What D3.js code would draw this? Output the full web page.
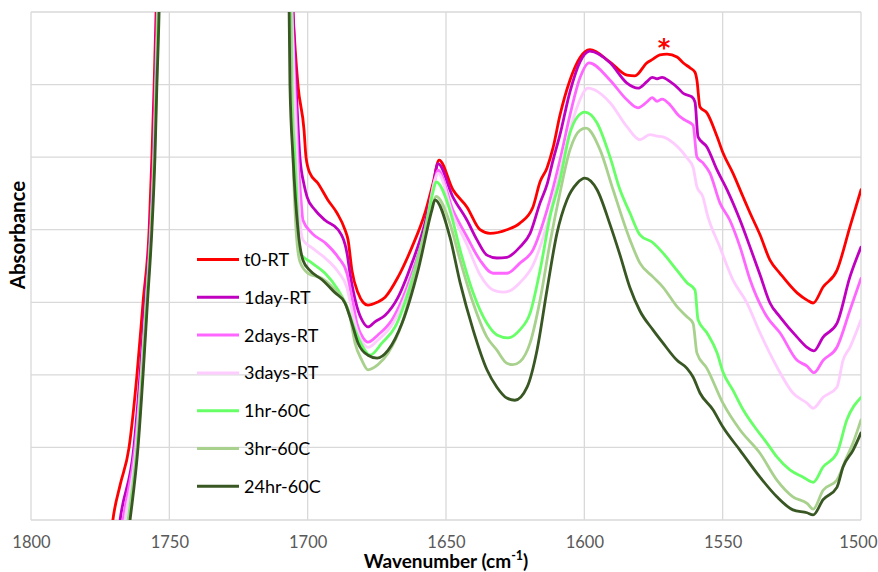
<!DOCTYPE html>
<html><head><meta charset="utf-8">
<script src="https://cdn.jsdelivr.net/npm/d3@7/dist/d3.min.js"></script>
<style>body{margin:0;background:#fff}</style>
</head><body>
<svg id="chart" width="878" height="572"></svg>
<script>
// ---------- DATA ----------
const seriesNames = ["t0-RT", "1day-RT", "2days-RT", "3days-RT", "1hr-60C", "3hr-60C", "24hr-60C"];
const seriesColors = ["#ff0000", "#c000c0", "#ff66ff", "#ffccff", "#66ff66", "#a9d18e", "#385723"];

// [wavenumber (cm-1), absorbance]; 1730 point = off-scale carbonyl peak (estimated)
const t0RT = [[1771.4,-0.034],[1770.4,0],[1767.8,0.048],[1764.6,0.099],[1761.7,0.200],[1759.5,0.300],[1757.3,0.400],[1756.3,0.500],[1755.5,0.599],[1754.8,0.700],[1754.5,0.758],[1730,1.6],
[1706.0,0.758],[1705.3,0.700],[1703.5,0.599],[1701.3,0.537],[1700.6,0.500],[1699.2,0.478],[1696.3,0.464],[1692.7,0.441],[1689.4,0.423],[1686.5,0.400],[1685.4,0.386],[1684.0,0.344],[1681.8,0.313],[1680.0,0.300],[1678.2,0.296],[1674.9,0.300],[1672.0,0.307],[1667.3,0.335],[1662.3,0.376],[1657.6,0.423],[1654.7,0.464],[1652.5,0.496],[1647.5,0.455],[1642.4,0.431],[1637.7,0.400],[1634.1,0.395],[1628.0,0.400],[1623.3,0.409],[1618.6,0.431],[1616.0,0.466],[1613.5,0.485],[1611.3,0.513],[1608.8,0.558],[1605.2,0.606],[1601.6,0.637],[1598.0,0.648],[1590.7,0.631],[1584.6,0.613],[1581.7,0.612],[1577.4,0.630],[1575.2,0.635],[1572.7,0.641],[1570.1,0.642],[1566.5,0.638],[1564.3,0.630],[1561.8,0.623],[1560.0,0.617],[1559.3,0.606],[1558.2,0.569],[1555.7,0.561],[1552.0,0.528],[1549.9,0.506],[1546.3,0.478],[1542.6,0.445],[1540.1,0.423],[1536.5,0.393],[1532.9,0.358],[1529.3,0.340],[1523.1,0.313],[1519.5,0.303],[1517.3,0.299],[1513.7,0.321],[1508.7,0.344],[1504.0,0.404],[1500,0.455]];

const day1RT = [[1768.9,-0.034],[1767.8,0],[1762.8,0.101],[1760.6,0.200],[1758.8,0.300],[1757.0,0.400],[1755.9,0.500],[1755.2,0.599],[1754.5,0.700],[1754.1,0.758],[1730,1.6],
[1706.0,0.758],[1705.3,0.700],[1704.2,0.599],[1702.8,0.500],[1701.3,0.462],[1700.2,0.445],[1697.3,0.427],[1693.7,0.413],[1689.0,0.400],[1685.8,0.368],[1684.7,0.340],[1682.2,0.294],[1680.0,0.273],[1678.2,0.266],[1675.7,0.273],[1672.0,0.282],[1667.3,0.307],[1662.3,0.354],[1657.6,0.409],[1654.7,0.459],[1652.9,0.491],[1647.5,0.445],[1642.4,0.413],[1638.8,0.386],[1635.2,0.365],[1631.6,0.361],[1628.0,0.362],[1623.3,0.376],[1619.6,0.395],[1616.0,0.437],[1613.5,0.462],[1611.3,0.496],[1608.8,0.531],[1605.2,0.590],[1601.6,0.631],[1598.0,0.646],[1590.7,0.630],[1584.6,0.602],[1580.6,0.595],[1577.4,0.604],[1575.5,0.610],[1573.7,0.608],[1571.9,0.610],[1569.0,0.604],[1566.1,0.595],[1564.3,0.588],[1561.1,0.583],[1560.0,0.576],[1558.9,0.528],[1555.7,0.514],[1552.0,0.482],[1548.4,0.455],[1543.7,0.413],[1540.1,0.376],[1536.5,0.338],[1532.9,0.299],[1529.3,0.280],[1523.1,0.252],[1519.5,0.238],[1517.0,0.233],[1513.7,0.252],[1508.7,0.271],[1504.0,0.335],[1500,0.376]];

const days2RT = [[1767.8,-0.034],[1766.7,0],[1762.4,0.101],[1760.2,0.200],[1758.4,0.300],[1756.8,0.400],[1755.7,0.500],[1755.0,0.599],[1754.3,0.700],[1754.0,0.758],[1730,1.6],
[1706.4,0.758],[1705.7,0.700],[1704.6,0.599],[1703.5,0.500],[1702.4,0.441],[1701.7,0.413],[1698.4,0.395],[1693.7,0.382],[1689.0,0.362],[1685.8,0.340],[1684.0,0.307],[1682.2,0.271],[1680.0,0.251],[1678.2,0.245],[1674.6,0.255],[1669.5,0.276],[1662.3,0.340],[1657.6,0.400],[1654.0,0.469],[1652.9,0.482],[1647.5,0.427],[1642.4,0.390],[1637.7,0.358],[1633.0,0.340],[1628.0,0.340],[1623.3,0.354],[1618.6,0.372],[1613.5,0.427],[1608.8,0.496],[1605.2,0.558],[1601.6,0.609],[1598.3,0.630],[1590.7,0.606],[1584.6,0.579],[1580.6,0.568],[1577.4,0.576],[1575.5,0.582],[1573.7,0.577],[1571.9,0.580],[1569.0,0.572],[1566.1,0.558],[1563.6,0.551],[1560.7,0.544],[1559.3,0.500],[1557.1,0.492],[1554.6,0.478],[1551.0,0.437],[1547.4,0.413],[1543.7,0.376],[1540.1,0.331],[1534.0,0.280],[1529.3,0.258],[1523.1,0.220],[1519.5,0.212],[1517.0,0.203],[1513.7,0.220],[1508.7,0.238],[1504.0,0.289],[1500,0.333]];

const days3RT = [[1767.1,-0.034],[1766.0,0],[1762.0,0.101],[1760.1,0.200],[1758.3,0.300],[1756.6,0.400],[1755.5,0.500],[1754.8,0.599],[1754.1,0.700],[1753.7,0.758],[1730,1.6],
[1706.4,0.758],[1705.7,0.700],[1704.9,0.599],[1703.9,0.500],[1702.8,0.413],[1701.7,0.386],[1698.4,0.375],[1693.7,0.361],[1689.0,0.342],[1685.8,0.320],[1684.0,0.289],[1682.2,0.262],[1680.0,0.244],[1678.2,0.238],[1674.6,0.248],[1669.5,0.269],[1662.3,0.333],[1657.6,0.393],[1654.0,0.469],[1652.9,0.478],[1647.5,0.420],[1642.4,0.379],[1637.7,0.338],[1633.0,0.317],[1629.4,0.314],[1626.9,0.316],[1623.3,0.327],[1618.6,0.351],[1613.5,0.407],[1608.8,0.480],[1605.2,0.537],[1601.6,0.579],[1598.7,0.595],[1590.7,0.575],[1584.6,0.542],[1579.9,0.524],[1576.3,0.531],[1573.7,0.529],[1571.6,0.528],[1568.0,0.520],[1562.9,0.499],[1560.7,0.486],[1559.3,0.459],[1557.1,0.445],[1555.7,0.423],[1551.0,0.376],[1546.3,0.331],[1541.2,0.299],[1536.5,0.258],[1530.4,0.211],[1524.6,0.175],[1519.5,0.161],[1517.3,0.154],[1513.7,0.169],[1508.7,0.183],[1506.5,0.220],[1504.0,0.238],[1500,0.276]];

const hr1_60C = [[1766.0,-0.034],[1764.9,0],[1761.7,0.101],[1759.9,0.200],[1758.3,0.300],[1756.6,0.400],[1755.5,0.500],[1754.8,0.599],[1754.1,0.700],[1753.7,0.758],[1730,1.6],
[1706.7,0.758],[1706.0,0.700],[1705.7,0.599],[1704.6,0.500],[1703.9,0.441],[1702.8,0.368],[1698.4,0.354],[1693.7,0.340],[1689.0,0.317],[1685.8,0.294],[1682.9,0.262],[1680.0,0.238],[1677.5,0.227],[1673.1,0.244],[1668.4,0.266],[1662.3,0.331],[1657.6,0.400],[1654.7,0.452],[1653.6,0.466],[1648.6,0.427],[1644.9,0.372],[1640.2,0.313],[1635.2,0.271],[1631.6,0.255],[1627.6,0.251],[1623.3,0.262],[1619.6,0.285],[1616.0,0.344],[1612.4,0.418],[1608.8,0.469],[1605.2,0.533],[1602.6,0.555],[1599.8,0.562],[1595.4,0.547],[1590.7,0.500],[1587.1,0.455],[1583.5,0.423],[1579.9,0.393],[1575.2,0.382],[1571.6,0.368],[1566.5,0.344],[1562.9,0.327],[1560.0,0.317],[1558.9,0.276],[1555.7,0.258],[1552.0,0.230],[1549.9,0.204],[1546.3,0.179],[1542.6,0.152],[1537.6,0.124],[1534.0,0.106],[1530.4,0.087],[1525.7,0.069],[1520.9,0.059],[1517.3,0.052],[1513.7,0.073],[1508.7,0.092],[1505.1,0.138],[1500,0.169]];

const hr3_60C = [[1765.7,-0.034],[1764.6,0],[1761.5,0.101],[1759.7,0.200],[1758.1,0.300],[1756.5,0.400],[1755.4,0.500],[1754.6,0.599],[1753.9,0.700],[1753.6,0.758],[1730,1.6],
[1706.7,0.758],[1706.4,0.700],[1706.0,0.599],[1705.3,0.500],[1704.2,0.400],[1702.8,0.356],[1699.9,0.340],[1694.8,0.333],[1690.1,0.317],[1686.5,0.299],[1684.7,0.280],[1682.9,0.244],[1680.4,0.220],[1678.2,0.207],[1674.6,0.214],[1670.9,0.230],[1665.9,0.271],[1660.1,0.354],[1655.1,0.431],[1653.6,0.446],[1648.6,0.409],[1644.9,0.358],[1640.2,0.299],[1635.2,0.252],[1631.6,0.234],[1628.0,0.216],[1625.8,0.214],[1623.3,0.218],[1619.6,0.244],[1616.0,0.303],[1612.4,0.382],[1608.8,0.451],[1605.2,0.510],[1601.6,0.537],[1599.4,0.540],[1594.3,0.510],[1589.6,0.455],[1583.5,0.386],[1579.9,0.354],[1575.2,0.335],[1571.6,0.321],[1566.5,0.294],[1562.9,0.280],[1560.7,0.271],[1559.3,0.230],[1555.7,0.209],[1549.9,0.161],[1543.7,0.124],[1536.5,0.092],[1530.4,0.055],[1524.6,0.032],[1519.5,0.023],[1517.3,0.015],[1513.7,0.041],[1508.7,0.055],[1505.1,0.087],[1502.9,0.106],[1500,0.138]];

const hr24_60C = [[1765.3,-0.034],[1764.2,0],[1761.3,0.101],[1759.5,0.200],[1757.9,0.300],[1756.3,0.400],[1755.2,0.500],[1754.5,0.599],[1753.7,0.700],[1753.4,0.758],[1730,1.6],
[1707.1,0.758],[1706.7,0.700],[1706.4,0.599],[1705.3,0.500],[1703.5,0.400],[1701.7,0.358],[1699.2,0.344],[1694.8,0.331],[1690.1,0.313],[1686.5,0.299],[1684.0,0.271],[1681.8,0.244],[1678.2,0.227],[1674.9,0.223],[1670.9,0.234],[1665.9,0.271],[1660.1,0.344],[1655.1,0.427],[1654.0,0.441],[1648.6,0.390],[1644.9,0.327],[1640.2,0.262],[1635.2,0.207],[1631.6,0.183],[1628.0,0.168],[1625.1,0.165],[1620.7,0.183],[1617.1,0.234],[1613.5,0.317],[1609.9,0.395],[1606.3,0.441],[1602.6,0.464],[1599.8,0.471],[1595.4,0.455],[1590.7,0.407],[1587.1,0.365],[1583.5,0.320],[1579.9,0.288],[1575.2,0.262],[1571.6,0.244],[1566.5,0.220],[1562.9,0.209],[1560.7,0.197],[1558.2,0.175],[1553.5,0.152],[1549.9,0.128],[1543.7,0.096],[1536.5,0.059],[1530.4,0.032],[1524.6,0.014],[1519.5,0.010],[1517.3,0.007],[1513.7,0.028],[1508.7,0.045],[1506.5,0.073],[1502.9,0.096],[1500,0.120]];

const seriesData = [t0RT, day1RT, days2RT, days3RT, hr1_60C, hr3_60C, hr24_60C];
const xTicks = [1800, 1750, 1700, 1650, 1600, 1550, 1500];
const yGrid = [0, 0.1, 0.2, 0.3, 0.4, 0.5, 0.6, 0.7];
const xTitle = "Wavenumber (cm";
const xTitleSup = "-1";
const yTitle = "Absorbance";
const marker = {text: "*", wn: 1571.2, a: 0.66};

// ---------- CHART ----------
const W = 878, H = 572;
const m = {top: 12, right: 17, bottom: 52, left: 31};
const svg = d3.select("#chart");
const x = d3.scaleLinear().domain([1800, 1500]).range([m.left, W - m.right]);
const y = d3.scaleLinear().domain([0, 0.7]).range([H - m.bottom, m.top]);
const font = "Lato, 'Open Sans', sans-serif";

// gridlines
const grid = svg.append("g");
grid.selectAll("line.h").data(yGrid).join("line")
  .attr("x1", x(1800)).attr("x2", x(1500))
  .attr("y1", d => y(d)).attr("y2", d => y(d))
  .attr("stroke", "#d9d9d9").attr("stroke-width", 1.3);
grid.selectAll("line.v").data(xTicks).join("line")
  .attr("x1", d => x(d)).attr("x2", d => x(d))
  .attr("y1", y(0)).attr("y2", y(0.7))
  .attr("stroke", "#d9d9d9").attr("stroke-width", 1.3);

// x axis labels
const xAxis = d3.axisBottom(x).tickValues(xTicks).tickSize(0).tickPadding(16).tickFormat(d3.format("d"));
const gx = svg.append("g").attr("transform", `translate(0,${y(0)})`).call(xAxis);
gx.select(".domain").remove();
gx.selectAll("text").attr("font-family", font).attr("font-size", 16.5).attr("fill", "#595959");
gx.selectAll(".tick").filter(d => d === 1500).select("text")
  .attr("text-anchor", "end").attr("x", W - 1 - x(1500));

// clip
svg.append("clipPath").attr("id", "plotclip").append("rect")
  .attr("x", m.left).attr("y", m.top).attr("width", W - m.left - m.right).attr("height", H - m.top - m.bottom);

const line = d3.line().x(d => x(d[0])).y(d => y(d[1])).curve(d3.curveMonotoneX);
const gl = svg.append("g").attr("clip-path", "url(#plotclip)");
seriesData.forEach((s, i) => {
  gl.append("path").datum(s).attr("d", line)
    .attr("fill", "none").attr("stroke", seriesColors[i]).attr("stroke-width", 2.8)
    .attr("stroke-linejoin", "round").attr("stroke-linecap", "round");
});

// marker asterisk
svg.append("text").attr("x", x(marker.wn)).attr("y", y(marker.a) + 15)
  .attr("text-anchor", "middle").attr("font-family", "'DejaVu Sans', sans-serif").attr("font-weight", "bold")
  .attr("font-size", 24).attr("fill", "#ff0000").text(marker.text);

// legend
const lg = svg.append("g");
seriesNames.forEach((n, i) => {
  const yy = 259.5 + i * 37.8;
  lg.append("line").attr("x1", 197).attr("x2", 239).attr("y1", yy).attr("y2", yy)
    .attr("stroke", seriesColors[i]).attr("stroke-width", 3);
  lg.append("text").attr("x", 244).attr("y", yy).attr("dy", "0.36em")
    .attr("font-family", font).attr("font-size", 18).attr("fill", "#000").text(n);
});

// axis titles
const xt = svg.append("text").attr("x", 446).attr("y", 567.5).attr("text-anchor", "middle")
  .attr("font-family", font).attr("font-weight", "bold").attr("font-size", 19).attr("fill", "#000");
xt.append("tspan").text(xTitle);
xt.append("tspan").attr("dy", -8).attr("font-size", 12.5).text(xTitleSup);
xt.append("tspan").attr("dy", 8).text(")");

svg.append("text").attr("transform", "translate(25,235) rotate(-90)").attr("text-anchor", "middle")
  .attr("font-family", font).attr("font-weight", "bold").attr("font-size", 20.5).attr("fill", "#000").text(yTitle);
</script>
</body></html>
